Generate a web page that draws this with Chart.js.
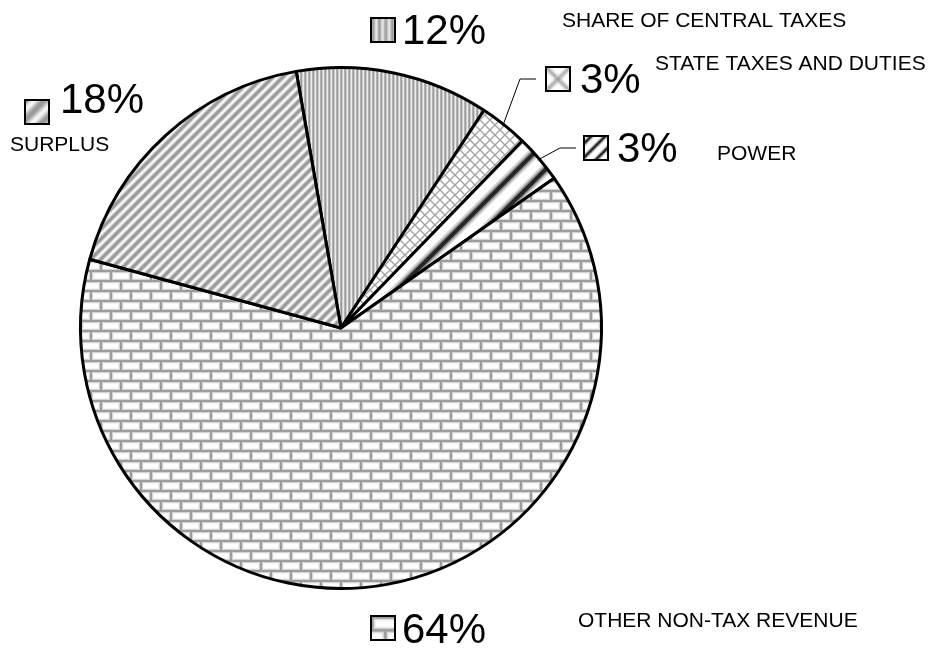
<!DOCTYPE html>
<html lang="en">
<head>
  <meta charset="UTF-8">
  <title>Revenue receipts by source</title>
  <script src="https://cdn.jsdelivr.net/npm/chart.js"></script>
  <style>
    html, body {
      margin: 0;
      padding: 0;
      background: #ffffff;
    }
    #revenueChart {
      display: block;
    }
  </style>
</head>
<body>
  <canvas id="revenueChart" width="934" height="651"></canvas>

  <script>
    // revenue sources, clockwise from the top
    const categories = [
      'SHARE OF CENTRAL TAXES',
      'STATE TAXES AND DUTIES',
      'POWER',
      'OTHER NON-TAX REVENUE',
      'SURPLUS'
    ];
    const shares = [12, 3, 3, 64, 18];
    const shareLabels = ['12%', '3%', '3%', '64%', '18%'];

    const FONT = '"Liberation Sans", Arial, sans-serif';

    // small helper: build a repeating fill from a tile
    function makePattern(w, h, draw) {
      const c = document.createElement('canvas');
      c.width = w;
      c.height = h;
      const g = c.getContext('2d');
      draw(g, w, h);
      return g.createPattern(c, 'repeat');
    }

    // diagonal "/" lines across a square tile of side p (run past the edges so thick lines stay whole)
    function slashLines(g, p, width, color, shift = 0) {
      g.strokeStyle = color;
      g.lineWidth = width;
      g.lineCap = 'butt';
      g.beginPath();
      for (const k of [-2 * p, -p, 0, p, 2 * p]) {
        g.moveTo(k + shift - p, 2 * p);
        g.lineTo(k + shift + 2 * p, -p);
      }
      g.stroke();
    }

    const verticalStripes = makePattern(4, 4, (g) => {
      g.fillStyle = '#ececec';
      g.fillRect(0, 0, 4, 4);
      g.fillStyle = '#b4b4b4';
      g.fillRect(0, 0, 1, 4);
      g.fillStyle = '#9a9a9a';
      g.fillRect(1, 0, 1, 4);
      g.fillStyle = '#cfcfcf';
      g.fillRect(2, 0, 1, 4);
    });

    const crossHatch = makePattern(10, 10, (g) => {
      g.fillStyle = '#ffffff';
      g.fillRect(0, 0, 10, 10);
      slashLines(g, 10, 1.4, '#a4a4a4');
      g.save();
      g.translate(10, 0);
      g.scale(-1, 1);
      slashLines(g, 10, 1.4, '#a4a4a4');
      g.restore();
    });

    // one dark band roughly down the middle of the thin POWER slice
    const darkSlash = makePattern(28, 28, (g) => {
      g.fillStyle = '#ffffff';
      g.fillRect(0, 0, 28, 28);
      slashLines(g, 28, 11, '#d2d2d2', 15);
      slashLines(g, 28, 7, '#8a8a8a', 15);
      slashLines(g, 28, 4, '#262626', 15);
    });

    const bricks = makePattern(20, 20, (g) => {
      g.fillStyle = '#d4d4d4';
      g.fillRect(0, 0, 20, 20);
      g.fillStyle = '#f4f4f4';
      g.fillRect(3, 3, 16, 6);
      g.fillRect(13, 13, 7, 6);
      g.fillRect(0, 13, 9, 6);
      g.fillStyle = '#ffffff';
      g.fillRect(4, 4, 14, 4);
      g.fillRect(14, 14, 6, 4);
      g.fillRect(0, 14, 8, 4);
      g.fillStyle = '#9c9c9c';
      g.fillRect(0, 0, 20, 2);
      g.fillRect(0, 10, 20, 2);
      g.fillRect(0, 0, 2, 10);
      g.fillRect(10, 10, 2, 10);
    });

    const greySlash = makePattern(10, 10, (g) => {
      g.fillStyle = '#ffffff';
      g.fillRect(0, 0, 10, 10);
      slashLines(g, 10, 5.5, '#d4d4d4');
      slashLines(g, 10, 3, '#9a9a9a');
    });

    const fills = [verticalStripes, crossHatch, darkSlash, bricks, greySlash];
    // swatch fills are the slice fills drawn at another scale
    const swatchScale = [1.6, 2.4, 0.5, 1.3, 2];

    // where each percentage / name pair sits
    const labelSpots = [
      { box: [371, 18], pct: [402, 44], name: [562, 21] },
      { box: [546, 67], pct: [580, 93], name: [655, 64] },
      { box: [584, 136], pct: [617, 162], name: [717, 154] },
      { box: [371, 616], pct: [402, 643], name: [578, 621] },
      { box: [25, 100], pct: [60, 113], name: [10, 145] }
    ];
    // leader line elbows for the two thin slices
    const leaders = {
      1: [[520, 79], [536, 79]],
      2: [[560, 148], [576, 148]]
    };

    const labelPlugin = {
      id: 'sliceLabels',
      afterDatasetsDraw(chart) {
        const ctx = chart.ctx;
        const arcs = chart.getDatasetMeta(0).data;
        ctx.save();

        // leader lines from the arc middles
        ctx.strokeStyle = '#000';
        ctx.lineWidth = 1;
        Object.keys(leaders).forEach((key) => {
          const arc = arcs[key];
          const mid = (arc.startAngle + arc.endAngle) / 2;
          const r = arc.outerRadius - 2;
          ctx.beginPath();
          ctx.moveTo(arc.x + r * Math.cos(mid), arc.y + r * Math.sin(mid));
          leaders[key].forEach(([px, py]) => ctx.lineTo(px, py));
          ctx.stroke();
        });

        labelSpots.forEach((spot, i) => {
          const [bx, by] = spot.box;
          const size = 24;

          ctx.save();
          ctx.beginPath();
          ctx.rect(bx, by, size, size);
          ctx.clip();
          ctx.translate(bx, by);
          ctx.scale(swatchScale[i], swatchScale[i]);
          ctx.fillStyle = fills[i];
          ctx.fillRect(0, 0, size / swatchScale[i], size / swatchScale[i]);
          ctx.restore();

          ctx.lineWidth = 2;
          ctx.strokeStyle = '#000';
          ctx.strokeRect(bx, by, size, size);

          ctx.fillStyle = '#000';
          ctx.textAlign = 'left';
          ctx.textBaseline = 'alphabetic';
          ctx.font = '42px ' + FONT;
          ctx.fillText(shareLabels[i], spot.pct[0], spot.pct[1]);

          ctx.textBaseline = 'middle';
          ctx.font = '21px ' + FONT;
          ctx.fillText(categories[i], spot.name[0], spot.name[1]);
        });

        ctx.restore();
      }
    };

    new Chart(document.getElementById('revenueChart'), {
      type: 'pie',
      data: {
        labels: categories,
        datasets: [{
          data: shares,
          backgroundColor: fills,
          borderColor: '#000000',
          borderWidth: 3,
          borderAlign: 'center'
        }]
      },
      options: {
        responsive: false,
        animation: false,
        rotation: -9.9,
        layout: {
          padding: { left: 79, right: 331, top: 66, bottom: 61 }
        },
        plugins: {
          legend: { display: false },
          tooltip: { enabled: false }
        }
      },
      plugins: [labelPlugin]
    });
  </script>
</body>
</html>
